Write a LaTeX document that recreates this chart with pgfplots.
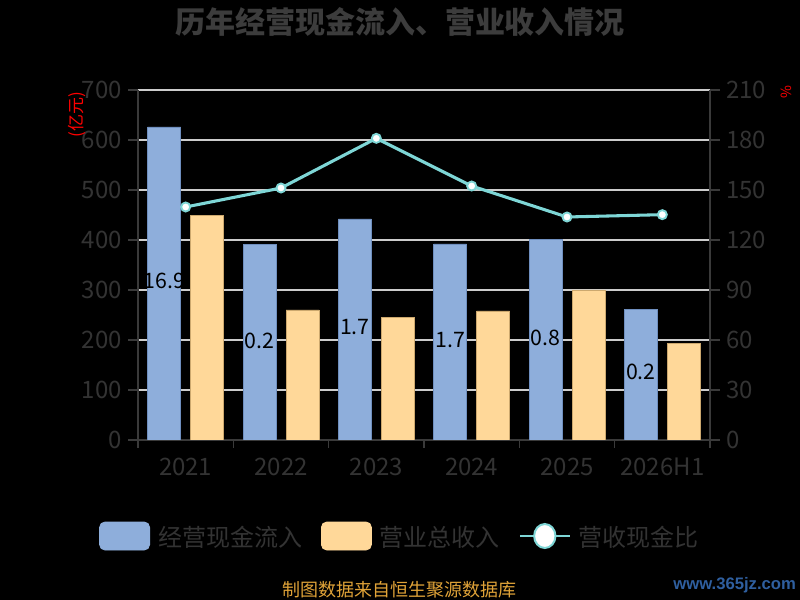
\documentclass[border=0pt]{standalone}
\usepackage{pgfplots}
\pgfplotsset{compat=1.18}
\usepackage{fontspec}
\setmainfont{Noto Sans CJK SC}
\newfontfamily\wmfont{Liberation Sans}
\definecolor{cblue}{HTML}{8EAEDB}
\definecolor{cblueb}{HTML}{6F8FBF}
\definecolor{corange}{HTML}{FFD899}
\definecolor{coranb}{HTML}{CCA86E}
\definecolor{cteal}{HTML}{7ED6D6}
\definecolor{ctext}{HTML}{333333}
\definecolor{ctitle}{HTML}{3C3C3C}
\definecolor{cgrid}{HTML}{CCCCCC}
\definecolor{caxis}{HTML}{3A3A3A}
\definecolor{csrc}{HTML}{E0A338}
\definecolor{cwm}{HTML}{2F5F9F}
\begin{document}
\begin{tikzpicture}[x=1pt,y=1pt]
\fill[black] (0,0) rectangle (600,450);
\begin{axis}[
  at={(103.5pt,120pt)}, anchor=south west, scale only axis,
  width=429pt, height=262.5pt,
  xmin=-0.5, xmax=5.5, ymin=0, ymax=700,
  ytick={0,100,...,700},
  xtick={0,...,5}, xticklabels={2021,2022,2023,2024,2025,2026H1},
  minor xtick={-0.5,0.5,1.5,2.5,3.5,4.5,5.5},
  major x tick style={draw=none},
  minor x tick style={caxis, line width=1pt},
  ytick style={caxis, line width=1pt},
  tick align=outside, major tick length=7.5pt, minor tick length=6pt,
  axis x line*=bottom, axis y line*=left,
  axis line style={caxis, line width=1pt, -},
  ymajorgrids, grid style={cgrid, line width=0.9pt},
  tick label style={text=ctext, font=\fontsize{18}{18}\selectfont, inner sep=0pt},
  yticklabel style={xshift=-4.5pt},
  xticklabel style={yshift=-6pt},
  /pgf/number format/assume math mode=true,
  legend style={at={(0.4563,-0.2743)}, anchor=center, draw=none, fill=none,
    text=ctext, font=\fontsize{18}{18}\selectfont, legend columns=3,
    /tikz/every odd column/.append style={column sep=6pt},
    /tikz/every even column/.append style={column sep=14.25pt},
    nodes={inner sep=0pt, text depth=0pt}},
  legend cell align=left,
]
\addplot[ybar, bar width=24.75pt, bar shift=-16.125pt, fill=cblue, draw=cblueb, line width=0.6pt,
  legend image code/.code={\fill[cblue, rounded corners=4pt] (0pt,-10.5pt) rectangle (37.5pt,10.5pt);}]
  coordinates {(0,626) (1,391) (2,442) (3,392) (4,401) (5,261)};
\addlegendentry{经营现金流入}
\addplot[ybar, bar width=24.75pt, bar shift=16.125pt, fill=corange, draw=coranb, line width=0.6pt,
  legend image code/.code={\fill[corange, rounded corners=4pt] (0pt,-10.5pt) rectangle (37.5pt,10.5pt);}]
  coordinates {(0,449) (1,260) (2,245) (3,258) (4,300) (5,193)};
\addlegendentry{营业总收入}
\addlegendimage{legend image code/.code={\draw[cteal, line width=1.5pt] (0pt,0pt) -- (37.5pt,0pt); \draw[cteal, line width=1.5pt, fill=white] (18.75pt,0pt) circle[x radius=8pt, y radius=9pt];}}
\addlegendentry{营收现金比}
\addplot[draw=none, mark=none, nodes near coords, point meta=explicit symbolic,
  nodes near coords style={anchor=center, text=black, font=\fontsize{16}{16}\selectfont, inner sep=0pt}]
  coordinates {(-0.2255,318) [16.9] (0.7745,198) [0.2] (1.7745,226) [1.7] (2.7745,200) [1.7] (3.7745,204) [0.8] (4.7745,136) [0.2]};
\end{axis}
\begin{axis}[
  at={(103.5pt,120pt)}, anchor=south west, scale only axis,
  width=429pt, height=262.5pt,
  xmin=-0.5, xmax=5.5, ymin=0, ymax=210,
  ytick={0,30,...,210},
  axis x line=none, axis y line*=right,
  axis line style={caxis, line width=1pt, -},
  ytick style={caxis, line width=1pt},
  tick align=outside, major tick length=7.5pt,
  tick label style={text=ctext, font=\fontsize{18}{18}\selectfont, inner sep=0pt},
  yticklabel style={xshift=4.5pt},
  /pgf/number format/assume math mode=true,
]
\addplot[cteal, line width=2.3pt, mark=*, mark size=3.4pt,
  mark options={fill=white, draw=cteal, line width=1.4pt}]
  coordinates {(0,139.8) (1,151.2) (2,181) (3,152.4) (4,133.8) (5,135.2)};
\end{axis}
\node[text=ctitle, font=\fontsize{22.5}{22.5}\selectfont\bfseries] at (300,433.5) {历年经营现金流入、营业收入情况};
\node[text=red, rotate=90, font=\fontsize{12.75}{12.75}\selectfont] at (57.5,363.75) {(亿元)};
\node[text=red, rotate=90, font=\fontsize{10.5}{10.5}\selectfont] at (590,381.2) {\%};
\node[text=csrc, font=\fontsize{13.5}{13.5}\selectfont] at (299.6,7.5) {制图数据来自恒生聚源数据库};
\node[text=cwm, font=\wmfont\bfseries\fontsize{12.5}{12.5}\selectfont] at (551,11.25) {www.365jz.com};
\pgfresetboundingbox
\useasboundingbox (0,0) rectangle (600,450);
\end{tikzpicture}
\end{document}
